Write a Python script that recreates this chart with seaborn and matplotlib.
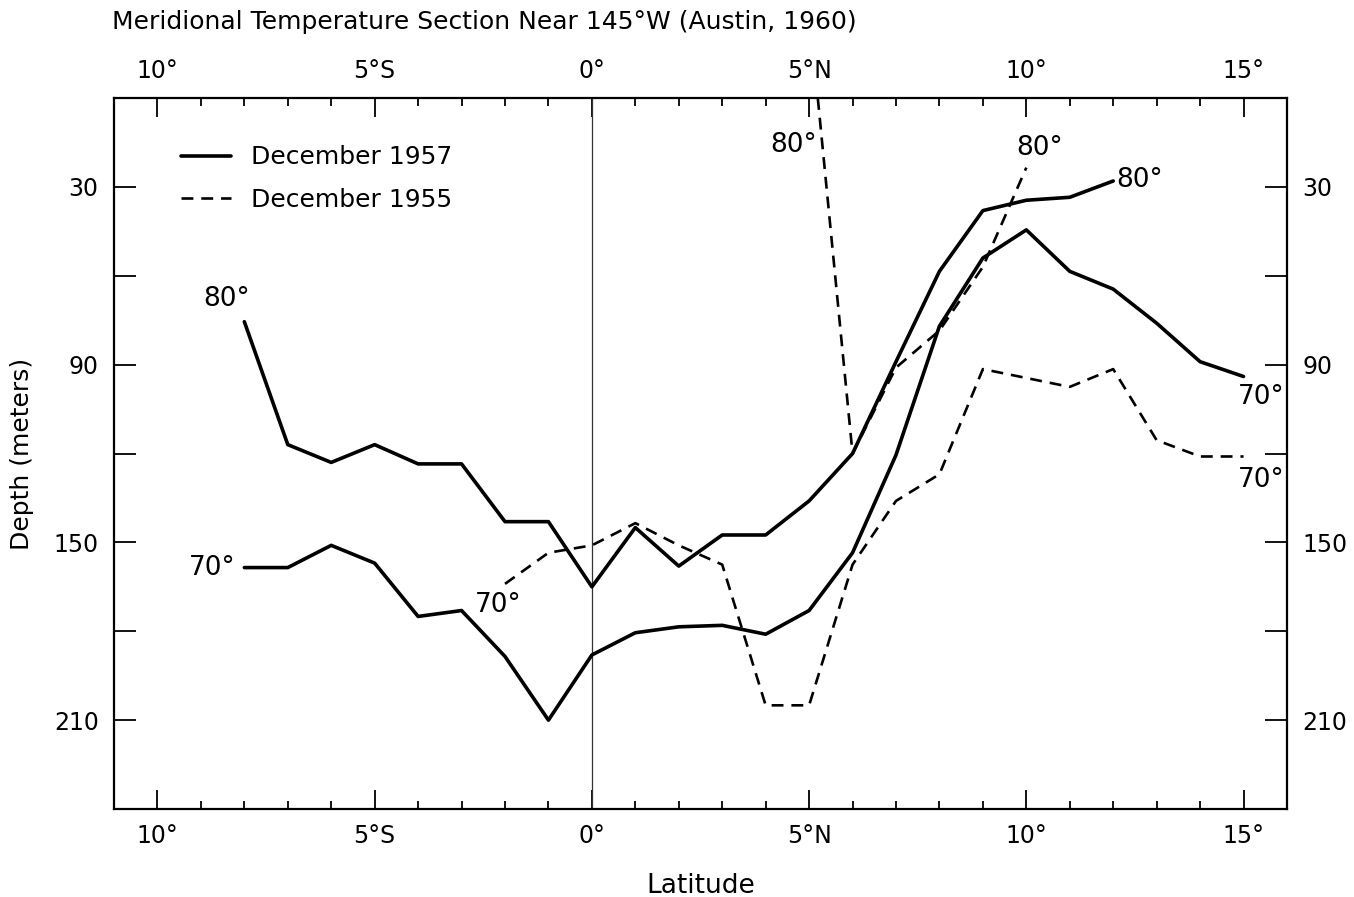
import numpy as np
import pandas as pd
import matplotlib
matplotlib.use("Agg")
import matplotlib.pyplot as plt
import seaborn as sns
from matplotlib.ticker import FixedLocator, MultipleLocator

# ---- data (latitude: negative = S, positive = N; depth in meters) ----
lat_1957_80 = [-8, -7, -6, -5, -4, -3, -2, -1, 0, 1, 2, 3, 4, 5, 6, 7, 8, 9, 10, 11, 12]
dep_1957_80 = [75.5, 117, 123, 117, 123.5, 123.5, 143, 143, 165, 145, 158, 147.5, 147.5, 136, 120, 89, 58.5, 38, 34.5, 33.5, 28]

lat_1957_70 = [-8, -7, -6, -5, -4, -3, -2, -1, 0, 1, 2, 3, 4, 5, 6, 7, 8, 9, 10, 11, 12, 13, 14, 15]
dep_1957_70 = [158.5, 158.5, 151, 157, 175, 173, 188.5, 210, 188, 180.5, 178.5, 178, 181, 173, 153.5, 120.5, 77, 54, 44.5, 58.5, 64.5, 76, 89, 94]

lat_1955_80 = [5.2, 6, 7, 8, 9, 10]
dep_1955_80 = [0, 120, 91, 78.5, 57, 23.5]

lat_1955_70 = [-2, -1, 0, 1, 2, 3, 4, 5, 6, 7, 8, 9, 10, 11, 12, 13, 14, 15]
dep_1955_70 = [164, 153.5, 151, 143.5, 151, 157.5, 205, 205, 157.5, 136, 127, 91.5, 94.5, 97.5, 91.5, 115.5, 121, 121]

label_1957 = "December 1957"
label_1955 = "December 1955"

x_major = [-10, -5, 0, 5, 10, 15]
x_major_labels = ["10°", "5°S", "0°", "5°N", "10°", "15°"]
y_major = [0, 30, 60, 90, 120, 150, 180, 210, 240]
y_major_labels = ["", "30", "", "90", "", "150", "", "210", ""]

iso_labels = [
    ("80°", -8.4, 68),
    ("70°", -8.75, 158.5),
    ("70°", -2.15, 171),
    ("80°", 4.65, 16),
    ("80°", 10.3, 17),
    ("80°", 12.6, 27.5),
    ("70°", 15.4, 101),
    ("70°", 15.4, 129),
]

# ---- plotting ----
sns.set_style("ticks")
plt.rcParams["font.family"] = ["DejaVu Sans"]
plt.rcParams["text.color"] = "black"
plt.rcParams["axes.labelcolor"] = "black"
plt.rcParams["xtick.color"] = "black"
plt.rcParams["ytick.color"] = "black"

fig = plt.figure(figsize=(13.54, 8.97), dpi=100)
ax = fig.add_axes([0.0842, 0.0981, 0.8663, 0.7926])

solid_kw = dict(color="black", linewidth=2.6, linestyle="-", sort=False, estimator=None)
dash_kw = dict(color="black", linewidth=1.9, sort=False, estimator=None)

df57a = pd.DataFrame({"lat": lat_1957_80, "depth": dep_1957_80})
df57b = pd.DataFrame({"lat": lat_1957_70, "depth": dep_1957_70})
df55a = pd.DataFrame({"lat": lat_1955_80, "depth": dep_1955_80})
df55b = pd.DataFrame({"lat": lat_1955_70, "depth": dep_1955_70})

ax.axvline(0, color="#333333", linewidth=0.9, zorder=1)

sns.lineplot(data=df57a, x="lat", y="depth", ax=ax, label=label_1957, **solid_kw)
sns.lineplot(data=df57b, x="lat", y="depth", ax=ax, **solid_kw)
sns.lineplot(data=df55a, x="lat", y="depth", ax=ax, label=label_1955, **dash_kw)
sns.lineplot(data=df55b, x="lat", y="depth", ax=ax, **dash_kw)

for ln in ax.get_lines()[3:]:
    ln.set_dashes([4.5, 3])

ax.set_xlim(-11, 16)
ax.set_ylim(240, 0)

ax.xaxis.set_major_locator(FixedLocator(x_major))
ax.set_xticklabels(x_major_labels)
ax.xaxis.set_minor_locator(MultipleLocator(1))
ax.yaxis.set_major_locator(FixedLocator(y_major))
ax.set_yticklabels(y_major_labels)

ax.tick_params(axis="x", which="major", direction="in", length=14, width=1.3,
               top=True, bottom=True, labeltop=True, labelbottom=True,
               labelsize=17, pad=11, colors="black")
ax.tick_params(axis="x", which="minor", direction="in", length=6, width=1.3,
               top=True, bottom=True, colors="black")
ax.tick_params(axis="y", which="major", direction="in", length=16, width=1.3,
               left=True, right=True, labelleft=True, labelright=True,
               labelsize=17, pad=11, colors="black")

for s in ax.spines.values():
    s.set_linewidth(1.6)
    s.set_color("black")

for txt, x, y in iso_labels:
    ax.text(x, y, txt, ha="center", va="center", fontsize=19, color="black")

ax.set_xlabel("Latitude", fontsize=19, labelpad=18, color="black")
ax.set_ylabel("Depth (meters)", fontsize=18, labelpad=14, color="black")

leg = ax.legend(loc="upper left", bbox_to_anchor=(0.038, 0.965), frameon=False,
                fontsize=18, handlelength=2.0, handletextpad=0.8, labelspacing=0.75)
for t in leg.get_texts():
    t.set_color("black")
hs = leg.legend_handles
hs[0].set_color("black")
hs[1].set_color("black")
hs[1].set_dashes([4.5, 3])

fig.text(0.083, 0.975, "Meridional Temperature Section Near 145°W (Austin, 1960)",
         fontsize=18, ha="left", va="center", color="black")

fig.savefig("out.png", dpi=100, facecolor="white")
